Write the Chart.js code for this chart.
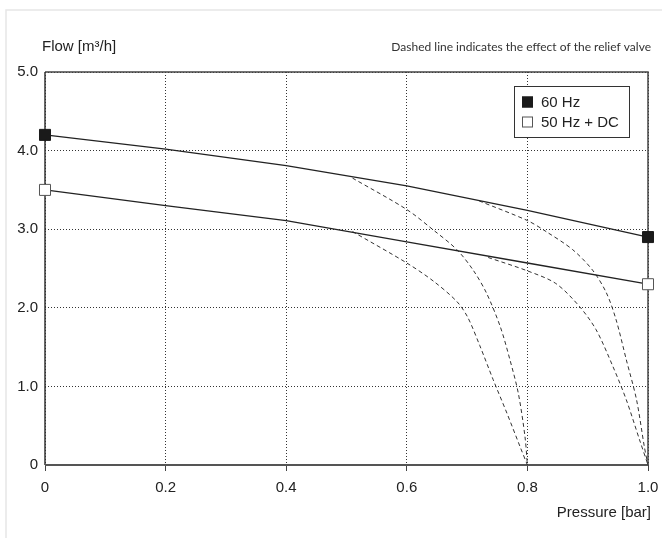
<!DOCTYPE html>
<html>
<head>
<meta charset="utf-8">
<script src="https://cdn.jsdelivr.net/npm/chart.js@4"></script>
<style>
  body { margin: 0; background: #fff; }
  canvas { display: block; }
</style>
</head>
<body>
<canvas id="pumpChart" width="667" height="547"></canvas>
<script>
// pump curves
const pressure = [0, 0.2, 0.4, 0.6, 0.8, 1.0];
const flow60 = [4.2, 4.02, 3.81, 3.55, 3.24, 2.9];
const flow50 = [3.5, 3.3, 3.11, 2.84, 2.57, 2.3];

// relief valve curves (dashed)
const relief60a_x = [0.51, 0.6, 0.644, 0.683, 0.71, 0.732, 0.755, 0.771, 0.785, 0.796, 0.8];
const relief60a_y = [3.65, 3.25, 2.99, 2.74, 2.48, 2.19, 1.76, 1.34, 0.91, 0.36, 0];
const relief60b_x = [0.72, 0.8, 0.831, 0.875, 0.908, 0.931, 0.947, 0.964, 0.981, 0.994, 1.0];
const relief60b_y = [3.36, 3.11, 2.97, 2.74, 2.48, 2.19, 1.85, 1.34, 0.83, 0.23, 0];
const relief50a_x = [0.51, 0.6, 0.644, 0.683, 0.701, 0.721, 0.743, 0.766, 0.788, 0.8];
const relief50a_y = [2.97, 2.57, 2.34, 2.08, 1.88, 1.52, 1.09, 0.66, 0.23, 0];
const relief50b_x = [0.735, 0.8, 0.847, 0.886, 0.914, 0.942, 0.964, 0.986, 1.0];
const relief50b_y = [2.64, 2.47, 2.31, 2.02, 1.72, 1.25, 0.83, 0.32, 0];

const xTickLabels = ['0', '0.2', '0.4', '0.6', '0.8', '1.0'];
const yTickLabels = ['0', '1.0', '2.0', '3.0', '4.0', '5.0'];

const FONT = "'Liberation Sans', Arial, sans-serif";

function pts(xs, ys) {
    return xs.map((x, i) => ({ x: x, y: ys[i] }));
}

function endMarker(ctx) {
    const n = ctx.dataset.data.length;
    return (ctx.dataIndex === 0 || ctx.dataIndex === n - 1) ? 7.8 : 0;
}

function reliefSet(label, xs, ys) {
    return {
        label: label,
        data: pts(xs, ys),
        showLine: true,
        borderColor: '#333',
        borderWidth: 1,
        borderDash: [4, 3],
        pointRadius: 0,
        tension: 0.3,
        fill: false
    };
}

const decor = {
    id: 'decor',
    beforeDraw(chart) {
        const c = chart.ctx;
        c.save();
        c.fillStyle = '#fff';
        c.fillRect(0, 0, chart.width, chart.height);
        c.strokeStyle = '#e6e6e6';
        c.lineWidth = 1.5;
        c.beginPath();
        c.moveTo(6, 538);
        c.lineTo(6, 10);
        c.lineTo(662, 10);
        c.stroke();
        c.restore();
    },
    beforeDatasetsDraw(chart) {
        const c = chart.ctx, a = chart.chartArea;
        c.save();
        // top + right frame
        c.strokeStyle = '#444';
        c.lineWidth = 1.5;
        c.beginPath();
        c.moveTo(a.left, a.top);
        c.lineTo(a.right, a.top);
        c.lineTo(a.right, a.bottom);
        c.stroke();
        // y axis
        c.strokeStyle = '#333';
        c.beginPath();
        c.moveTo(a.left, a.top);
        c.lineTo(a.left, a.bottom);
        c.stroke();
        // x axis
        c.strokeStyle = '#555';
        c.lineWidth = 2;
        c.beginPath();
        c.moveTo(a.left, a.bottom);
        c.lineTo(a.right, a.bottom);
        c.stroke();
        c.restore();
    },
    afterDraw(chart) {
        const c = chart.ctx;
        c.save();
        c.fillStyle = '#222';
        c.textBaseline = 'middle';
        c.font = '15px ' + FONT;
        c.textAlign = 'left';
        c.fillText('Flow [m³/h]', 42, 47);
        c.textAlign = 'right';
        c.fillText('Pressure [bar]', 651, 513);
        c.font = "12px Lato, 'Open Sans', sans-serif";
        c.fillStyle = '#333';
        c.fillText('Dashed line indicates the effect of the relief valve', 651, 47);

        // legend box
        const bx = 514, by = 86, bw = 115, bh = 51;
        c.fillStyle = '#fff';
        c.fillRect(bx, by, bw, bh);
        c.strokeStyle = '#333';
        c.lineWidth = 1;
        c.strokeRect(bx + 0.5, by + 0.5, bw, bh);
        [0, 1].forEach((di, i) => {
            const ds = chart.data.datasets[di];
            const cy = 102 + i * 20;
            c.fillStyle = ds.pointBackgroundColor;
            c.fillRect(522, cy - 5.5, 11, 11);
            c.strokeStyle = ds.pointBorderColor;
            c.strokeRect(522.5, cy - 5, 10, 10);
            c.fillStyle = '#222';
            c.textAlign = 'left';
            c.font = '15px ' + FONT;
            c.fillText(ds.label, 541, cy + 1);
        });
        c.restore();
    }
};

const ctx = document.getElementById('pumpChart').getContext('2d');

const pumpChart = new Chart(ctx, {
    type: 'scatter',
    data: {
        datasets: [
            {
                label: '60 Hz',
                data: pts(pressure, flow60),
                showLine: true,
                borderColor: '#222',
                borderWidth: 1.3,
                pointStyle: 'rect',
                pointRadius: endMarker,
                pointBackgroundColor: '#1a1a1a',
                pointBorderColor: '#1a1a1a',
                pointBorderWidth: 1
            },
            {
                label: '50 Hz + DC',
                data: pts(pressure, flow50),
                showLine: true,
                borderColor: '#222',
                borderWidth: 1.3,
                pointStyle: 'rect',
                pointRadius: endMarker,
                pointBackgroundColor: '#fff',
                pointBorderColor: '#555',
                pointBorderWidth: 1
            },
            reliefSet('Relief 60 Hz (0.8 bar)', relief60a_x, relief60a_y),
            reliefSet('Relief 60 Hz (1.0 bar)', relief60b_x, relief60b_y),
            reliefSet('Relief 50 Hz (0.8 bar)', relief50a_x, relief50a_y),
            reliefSet('Relief 50 Hz (1.0 bar)', relief50b_x, relief50b_y)
        ]
    },
    options: {
        responsive: false,
        animation: false,
        events: [],
        clip: false,
        layout: { padding: { top: 72, right: 19, left: 0, bottom: 0 } },
        plugins: {
            legend: { display: false },
            tooltip: { enabled: false }
        },
        scales: {
            x: {
                type: 'linear',
                min: 0,
                max: 1,
                afterFit: (scale) => { scale.height = 82; },
                ticks: {
                    stepSize: 0.2,
                    padding: 8,
                    color: '#222',
                    font: { family: FONT, size: 15 },
                    callback: (v, i) => xTickLabels[i]
                },
                grid: {
                    color: '#333',
                    lineWidth: 1,
                    tickLength: 6,
                    tickBorderDash: [],
                    tickColor: '#444'
                },
                border: { display: false, dash: [1, 2] }
            },
            y: {
                type: 'linear',
                min: 0,
                max: 5,
                afterFit: (scale) => { scale.width = 45; },
                ticks: {
                    stepSize: 1,
                    padding: 7,
                    color: '#222',
                    font: { family: FONT, size: 15 },
                    callback: (v, i) => yTickLabels[i]
                },
                grid: {
                    color: '#333',
                    lineWidth: 1,
                    drawTicks: false
                },
                border: { display: false, dash: [1, 2] }
            }
        }
    },
    plugins: [decor]
});
</script>
</body>
</html>
